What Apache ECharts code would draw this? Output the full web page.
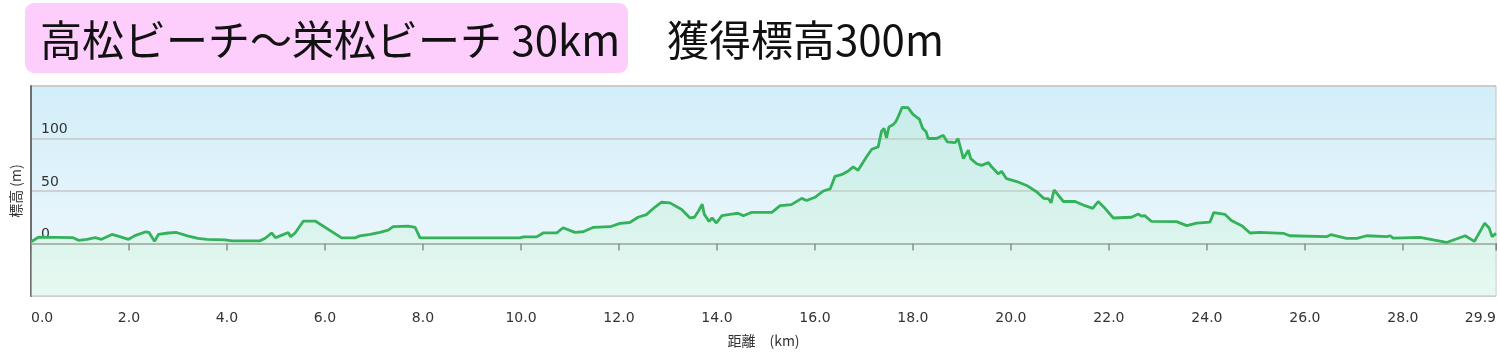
<!DOCTYPE html>
<html>
<head>
<meta charset="utf-8">
<script src="https://cdn.jsdelivr.net/npm/echarts@6/dist/echarts.min.js"></script>
<style>
html,body{margin:0;padding:0;background:#fff;}
#chart{width:1500px;height:354px;}
</style>
</head>
<body>
<div id="chart"></div>
<script>
// Distance (km) along the course
const distances = [
  0.00,0.15,0.86,0.97,1.14,1.31,1.44,1.65,1.78,1.99,2.12,2.33,2.41,2.52,2.60,2.80,2.97,3.21,3.41,3.59,3.96,4.10,
  4.67,4.78,4.91,4.99,5.12,5.25,5.30,5.39,5.56,5.80,6.34,6.61,6.71,6.92,7.12,7.29,7.39,7.70,7.84,7.94,9.98,
  10.05,10.32,10.46,10.73,10.86,11.10,11.27,11.48,11.82,12.02,12.22,12.39,12.56,12.73,12.87,13.04,13.28,13.45,
  13.54,13.62,13.70,13.74,13.84,13.90,13.99,14.10,14.30,14.43,14.54,14.71,15.12,15.29,15.52,15.73,15.83,16.00,
  16.17,16.31,16.41,16.54,16.68,16.78,16.88,17.05,17.16,17.29,17.36,17.41,17.46,17.51,17.60,17.65,17.70,17.78,
  17.90,18.00,18.13,18.20,18.27,18.31,18.48,18.62,18.70,18.86,18.92,19.03,19.13,19.18,19.30,19.40,19.54,19.61,
  19.74,19.81,19.91,20.12,20.32,20.53,20.67,20.77,20.82,20.88,21.07,21.31,21.51,21.67,21.78,21.92,22.09,22.46,
  22.60,22.67,22.73,22.87,23.38,23.59,23.79,24.06,24.14,24.37,24.50,24.71,24.88,25.08,25.56,25.69,26.44,26.53,
  26.85,27.06,27.26,27.67,27.74,27.80,28.35,28.89,29.27,29.46,29.67,29.76,29.82,29.90
];
// Elevation (m) at each distance
const elevations = [
  1.5,6,5.5,3,4,5.5,4,8.6,7,4,7.5,11,10.5,2,8.6,10,10.5,7,4.8,4,3.5,2.5,
  2.5,5,10,5.5,8,10.5,6.5,10,21.4,21.4,5.4,5.4,7.3,8.6,10.6,12.8,16,16.6,15.4,5.4,5.4,
  6.3,6.3,10.2,10.2,15,10.6,11.2,15.4,16,19.2,20,25,27.5,34.5,39.3,38.7,32.3,24.3,
  25,30.7,37.4,28,21,24.3,19.5,26.5,28,28.8,26.5,29.7,29.7,36,37,43,41,44,
  50,52,64,65.5,69,73,69.7,82.4,89.8,92,107,109.6,100.6,111,113.4,116,120.8,129.7,
  129.4,123,118.5,109.6,106.4,100,100,103,96.8,96,100,80.8,88.8,80.8,76,74.4,77,72.8,
  66.4,68.7,61.7,59,55.3,49,43,42.5,38.7,51,40,40,36,33.5,40,33.5,24.3,25,
  28,26,26.5,21,20.8,17,19.5,20.3,29.4,27.7,22,17,10,10.6,9.7,7.4,6.5,8.4,
  4.8,4.8,7.4,6.5,7.4,5.2,5.8,1,7.4,2,19.4,14.8,6.5,9.7
];
const xMax = 29.9;
const xInterval = 2;
const yMin = -50, yMax = 150, yInterval = 50;
const yLabelsShown = [0, 50, 100];
const titleText = '高松ビーチ〜栄松ビーチ 30km';
const subText = '獲得標高300m';
const xName = '距離　(km)';
const yName = '標高 (m)';

const seriesData = distances.map((d, i) => [d, elevations[i]]);

const chart = echarts.init(document.getElementById('chart'), null, {renderer: 'canvas'});
chart.setOption({
  animation: false,
  backgroundColor: '#ffffff',
  graphic: [
    {type: 'rect', left: 25, top: 3, shape: {width: 603, height: 70, r: 9}, style: {fill: '#fdcdfb'}, z: 0},
    {type: 'text', left: 40, top: 19, style: {text: titleText, font: '42px "Noto Sans CJK JP"', fill: '#111'}, z: 1},
    {type: 'text', left: 667, top: 19, style: {text: subText, font: '42px "Noto Sans CJK JP"', fill: '#111'}, z: 1}
  ],
  grid: {
    left: 31, right: 4, top: 86, bottom: 58,
    show: true,
    borderColor: '#c4c4c4', borderWidth: 1,
    backgroundColor: new echarts.graphic.LinearGradient(0, 0, 0, 1, [
      {offset: 0, color: '#d2eef9'},
      {offset: 1, color: '#f1f9fc'}
    ])
  },
  xAxis: {
    type: 'value', min: 0, max: xMax, interval: xInterval,
    name: xName, nameLocation: 'middle', nameGap: 38,
    nameTextStyle: {fontFamily: '"Noto Sans CJK JP"', fontSize: 14, color: '#333'},
    axisLine: {show: true, lineStyle: {color: '#8a8a8a', width: 1.5}},
    axisTick: {show: true, length: 7, lineStyle: {color: '#666', width: 1.5}},
    axisLabel: {
      margin: 15, fontFamily: 'DejaVu Sans', fontSize: 14, color: '#333',
      alignMinLabel: 'left', alignMaxLabel: 'right',
      formatter: v => v.toFixed(1)
    },
    splitLine: {show: false}
  },
  yAxis: {
    type: 'value', min: yMin, max: yMax, interval: yInterval,
    name: yName, nameLocation: 'middle', nameGap: 8, nameRotate: 90,
    nameTextStyle: {fontFamily: '"Noto Sans CJK JP"', fontSize: 14, color: '#333'},
    axisLine: {show: true, lineStyle: {color: '#6e6e6e', width: 2}},
    axisTick: {show: false},
    axisLabel: {
      inside: true, margin: 10, align: 'left', verticalAlign: 'bottom',
      padding: [0, 0, 2, 0],
      fontFamily: 'DejaVu Sans', fontSize: 14, color: '#333',
      formatter: v => (yLabelsShown.indexOf(v) >= 0 ? String(v) : '')
    },
    splitLine: {show: true, lineStyle: {color: '#c6c6c6', width: 1.5}}
  },
  series: [{
    type: 'line',
    data: seriesData,
    symbol: 'none',
    smooth: false,
    lineStyle: {color: '#34b25a', width: 2.8},
    areaStyle: {
      origin: 'start',
      color: new echarts.graphic.LinearGradient(0, 0, 0, 1, [
        {offset: 0, color: 'rgba(150,225,175,0.30)'},
        {offset: 1, color: 'rgba(215,250,225,0.55)'}
      ])
    },
    z: 3
  }]
});
</script>
</body>
</html>
